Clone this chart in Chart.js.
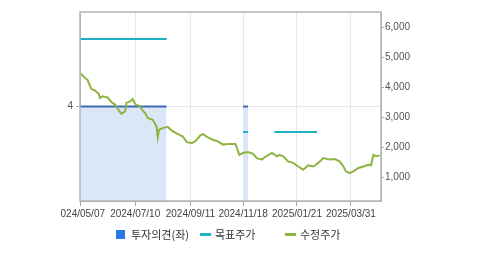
<!DOCTYPE html>
<html>
<head>
<meta charset="utf-8">
<script src="https://cdn.jsdelivr.net/npm/chart.js@4/dist/chart.umd.min.js"></script>
<style>
    html, body { margin: 0; padding: 0; background: #fff; }
    #wrap { position: relative; width: 479px; height: 255px; }
    #chart { position: absolute; left: 0; top: 0; clip-path: inset(0 0 0 60px); }
    .lg { position: absolute; font: 11px "Noto Sans CJK KR", sans-serif; color: #333; line-height: 13px; top: 228px; }
    .sw { position: absolute; }
</style>
</head>
<body>
<div id="wrap">
    <canvas id="chart" width="479" height="255"></canvas>
    <div class="sw" style="left:116px;top:230px;width:9px;height:9px;background:#2b78e4"></div>
    <div class="lg" style="left:131px">투자의견(좌)</div>
    <div class="sw" style="left:200px;top:233px;width:11px;height:3px;background:#1fb0c4"></div>
    <div class="lg" style="left:215px">목표주가</div>
    <div class="sw" style="left:285px;top:233px;width:11px;height:3px;background:#8db43f"></div>
    <div class="lg" style="left:300px">수정주가</div>
</div>
<script>
// x axis = trading day index
const dateTickIdx = [0, 44, 88, 130, 173, 216];
const dateLabels = ['2024/05/07', '2024/07/10', '2024/09/11', '2024/11/18', '2025/01/21', '2025/03/31'];

// 수정주가
const priceIdx = [0, 1, 4, 6, 9, 12, 15, 16, 18, 22, 25, 28, 31, 33, 36, 37, 40, 42, 44, 48, 50, 52, 54, 58, 61, 62, 63, 66, 70, 74,
    79, 82, 85, 89, 92, 96, 98, 102, 106, 110, 114, 118, 124, 127, 130, 134, 138, 141, 145, 147, 153, 157, 159, 162, 166, 170,
    174, 178, 182, 186, 190, 194, 199, 203, 207, 210, 212, 215, 218, 222, 226, 230, 232, 234, 236, 239];
const priceVal = [4470, 4430, 4300, 4240, 3940, 3880, 3770, 3630, 3690, 3650, 3500, 3410, 3210, 3110, 3190, 3470, 3520, 3600, 3430, 3350,
    3210, 3130, 2970, 2910, 2690, 2320, 2580, 2630, 2670, 2520, 2410, 2350, 2170, 2130, 2190, 2390, 2430, 2320, 2240, 2190,
    2080, 2100, 2100, 1740, 1800, 1830, 1770, 1630, 1580, 1650, 1800, 1690, 1740, 1690, 1520, 1470, 1350, 1240, 1390, 1350,
    1470, 1630, 1580, 1600, 1520, 1350, 1190, 1130, 1190, 1300, 1350, 1410, 1390, 1740, 1690, 1720];

// 목표주가 (null = gap)
const targetIdx = [0, 69, 100, 130, 134, 145, 155, 189];
const targetVal = [5600, 5600, null, 2500, 2500, null, 2500, 2500];

// 투자의견 (left axis)
const opinionIdx = [0, 69, 100, 130, 134];
const opinionVal = [4, 4, null, 4, 4];

const rightTicks = [1000, 2000, 3000, 4000, 5000, 6000];
const leftTicks = [4];

function toPoints(xs, ys) {
    return xs.map((x, i) => ({ x: x, y: ys[i] }));
}

// box around the plot area
const frame = {
    id: 'frame',
    afterDraw(chart) {
        const a = chart.chartArea;
        const ctx = chart.ctx;
        ctx.save();
        ctx.strokeStyle = '#b4b4b4';
        ctx.lineWidth = 1.5;
        ctx.strokeRect(a.left, a.top, a.right - a.left, a.bottom - a.top);
        ctx.restore();
    }
};

const tickFont = { family: '"Liberation Sans", Arial, sans-serif', size: 10 };

new Chart(document.getElementById('chart'), {
    type: 'line',
    data: {
        datasets: [{
            label: '투자의견(좌)',
            data: toPoints(opinionIdx, opinionVal),
            yAxisID: 'yL',
            borderColor: '#3a6cb4',
            backgroundColor: '#dbe7f7',
            borderWidth: 2,
            fill: 'origin',
            pointRadius: 0,
            spanGaps: false,
            order: 3
        }, {
            label: '목표주가',
            data: toPoints(targetIdx, targetVal),
            yAxisID: 'yR',
            borderColor: '#1fb0c4',
            borderWidth: 2,
            pointRadius: 0,
            spanGaps: false,
            order: 2
        }, {
            label: '수정주가',
            data: toPoints(priceIdx, priceVal),
            yAxisID: 'yR',
            borderColor: '#8db43f',
            borderWidth: 2,
            pointRadius: 0,
            order: 1
        }]
    },
    options: {
        responsive: false,
        animation: false,
        layout: { padding: { top: 12, left: 0, right: 0, bottom: 0 } },
        plugins: { legend: { display: false }, tooltip: { enabled: false } },
        scales: {
            x: {
                type: 'linear',
                min: 0,
                max: 240,
                afterBuildTicks: s => { s.ticks = dateTickIdx.map(v => ({ value: v })); },
                afterFit: s => { s.height = 54; },
                ticks: {
                    autoSkip: false,
                    maxRotation: 0,
                    padding: 2,
                    color: '#444',
                    font: tickFont,
                    callback: (v, i) => dateLabels[i]
                },
                grid: { color: '#e8e8e8', tickColor: '#aaa', tickLength: 5 },
                border: { color: '#b4b4b4' }
            },
            yL: {
                position: 'left',
                min: 0,
                max: 8,
                afterBuildTicks: s => { s.ticks = leftTicks.map(v => ({ value: v })); },
                afterFit: s => { s.width = 80; },
                ticks: { color: '#555', font: tickFont, padding: 3 },
                grid: { color: '#e8e8e8', tickColor: '#aaa', tickLength: 4 },
                border: { color: '#b4b4b4' }
            },
            yR: {
                position: 'right',
                min: 200,
                max: 6500,
                afterBuildTicks: s => { s.ticks = rightTicks.map(v => ({ value: v })); },
                afterFit: s => { s.width = 98; },
                ticks: {
                    color: '#555',
                    font: tickFont,
                    padding: 1,
                    callback: v => v.toLocaleString('en-US')
                },
                grid: { drawOnChartArea: false, tickColor: '#aaa', tickLength: 3 },
                border: { color: '#b4b4b4' }
            }
        }
    },
    plugins: [frame]
});
</script>
</body>
</html>
